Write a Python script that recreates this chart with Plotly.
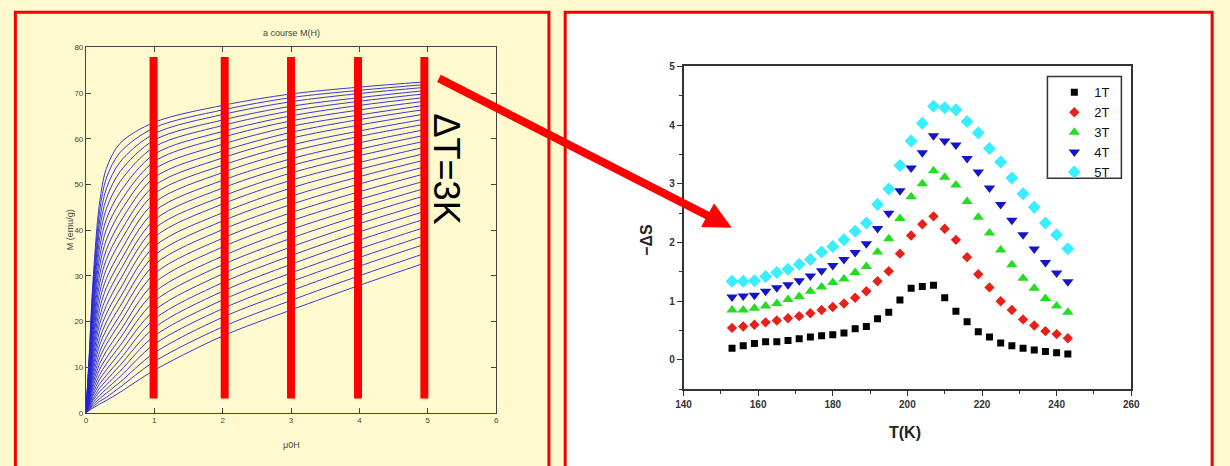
import plotly.graph_objects as go

# ---------------- data: left panel, M(H) isotherms (153 K ... 243 K, step 3 K) ----------------
H_grid = [0, 0.05, 0.1, 0.2, 0.3, 0.5, 1, 2, 3, 4, 5]
M_curves = [
    [0, 13.0, 28.0, 46.0, 53.5, 59.0, 63.6, 67.3, 69.8, 71.3, 72.5],
    [0, 12.4, 26.8, 44.1, 51.4, 57.0, 62.4, 66.3, 69.0, 70.6, 71.9],
    [0, 11.9, 25.5, 42.0, 49.1, 54.9, 61.1, 65.3, 68.1, 69.9, 71.3],
    [0, 11.3, 24.3, 40.1, 46.9, 52.8, 59.7, 64.1, 67.1, 69.0, 70.6],
    [0, 10.7, 23.0, 38.1, 44.7, 50.6, 58.2, 62.9, 66.1, 68.2, 69.9],
    [0, 10.1, 21.8, 36.1, 42.4, 48.3, 56.6, 61.6, 65.0, 67.3, 69.1],
    [0, 9.6, 20.6, 34.0, 40.2, 46.1, 55.0, 60.3, 63.9, 66.3, 68.3],
    [0, 9.0, 19.3, 32.1, 37.9, 43.9, 53.3, 58.8, 62.7, 65.2, 67.4],
    [0, 8.4, 18.1, 30.1, 35.7, 41.7, 51.5, 57.3, 61.4, 64.2, 66.5],
    [0, 7.9, 16.9, 28.2, 33.6, 39.5, 49.7, 55.8, 60.1, 63.0, 65.5],
    [0, 7.4, 15.8, 26.3, 31.5, 37.4, 47.9, 54.2, 58.6, 61.7, 64.4],
    [0, 6.9, 14.6, 24.5, 29.4, 35.2, 46.0, 52.6, 57.2, 60.5, 63.3],
    [0, 6.4, 13.5, 22.7, 27.4, 33.1, 44.1, 50.9, 55.6, 59.1, 62.1],
    [0, 5.9, 12.5, 21.0, 25.4, 31.1, 42.2, 49.2, 54.1, 57.7, 60.9],
    [0, 5.4, 11.5, 19.4, 23.5, 29.1, 40.3, 47.4, 52.5, 56.3, 59.6],
    [0, 5.0, 10.5, 17.8, 21.7, 27.1, 38.4, 45.7, 50.9, 54.8, 58.3],
    [0, 4.5, 9.6, 16.2, 19.9, 25.2, 36.4, 43.8, 49.2, 53.3, 56.9],
    [0, 4.1, 8.7, 14.8, 18.2, 23.3, 34.4, 42.0, 47.4, 51.7, 55.5],
    [0, 3.7, 7.8, 13.3, 16.5, 21.4, 32.4, 40.1, 45.6, 50.1, 54.0],
    [0, 3.3, 7.0, 12.0, 15.0, 19.7, 30.4, 38.2, 43.8, 48.4, 52.5],
    [0, 3.0, 6.2, 10.7, 13.5, 17.9, 28.4, 36.3, 42.0, 46.7, 50.9],
    [0, 2.6, 5.5, 9.5, 12.0, 16.3, 26.4, 34.3, 40.1, 44.9, 49.3],
    [0, 2.3, 4.8, 8.3, 10.7, 14.7, 24.4, 32.4, 38.2, 43.2, 47.7],
    [0, 2.0, 4.1, 7.3, 9.4, 13.2, 22.4, 30.4, 36.3, 41.4, 46.0],
    [0, 1.7, 3.6, 6.3, 8.2, 11.7, 20.5, 28.5, 34.4, 39.6, 44.3],
    [0, 1.5, 3.0, 5.4, 7.1, 10.4, 18.6, 26.6, 32.5, 37.8, 42.6],
    [0, 1.2, 2.6, 4.6, 6.1, 9.1, 16.8, 24.7, 30.6, 35.9, 40.8],
    [0, 1.0, 2.1, 3.8, 5.2, 7.9, 15.0, 22.8, 28.7, 34.0, 39.0],
    [0, 0.8, 1.7, 3.1, 4.3, 6.7, 13.1, 20.9, 26.7, 32.1, 37.1],
    [0, 0.7, 1.3, 2.5, 3.4, 5.6, 11.2, 18.8, 24.6, 30.0, 35.1],
    [0, 0.5, 1.0, 1.9, 2.7, 4.5, 9.3, 16.8, 22.5, 27.9, 33.0],
]
bar_H = [0.99, 2.03, 3.0, 3.98, 4.95]
bar_M = [3.1, 77.9]

# ---------------- data: right panel, -dS vs T ----------------
T_K = [153, 156, 159, 162, 165, 168, 171, 174, 177, 180, 183, 186, 189, 192, 195, 198,
       201, 204, 207, 210, 213, 216, 219, 222, 225, 228, 231, 234, 237, 240, 243]
S_1T = [0.20, 0.24, 0.28, 0.31, 0.31, 0.33, 0.36, 0.39, 0.41, 0.43, 0.46, 0.53, 0.57, 0.70, 0.81, 1.02,
        1.22, 1.25, 1.27, 1.06, 0.83, 0.65, 0.48, 0.39, 0.29, 0.24, 0.20, 0.17, 0.145, 0.12, 0.10]
S_2T = [0.545, 0.57, 0.60, 0.64, 0.67, 0.71, 0.745, 0.795, 0.85, 0.90, 0.96, 1.06, 1.17, 1.34, 1.51, 1.81,
        2.12, 2.31, 2.445, 2.235, 2.045, 1.75, 1.46, 1.235, 1.0, 0.85, 0.69, 0.585, 0.49, 0.44, 0.37]
S_3T = [0.85, 0.85, 0.88, 0.92, 0.96, 1.03, 1.08, 1.17, 1.24, 1.32, 1.38, 1.49, 1.59, 1.84, 2.065, 2.41,
        2.78, 3.0, 3.22, 3.11, 2.98, 2.70, 2.43, 2.16, 1.87, 1.62, 1.39, 1.22, 1.045, 0.92, 0.81]
S_4T = [1.07, 1.09, 1.10, 1.17, 1.23, 1.28, 1.35, 1.43, 1.52, 1.61, 1.71, 1.83, 1.98, 2.24, 2.5, 2.88,
        3.27, 3.53, 3.82, 3.73, 3.66, 3.43, 3.2, 2.93, 2.645, 2.38, 2.13, 1.89, 1.66, 1.48, 1.33]
S_5T = [1.34, 1.34, 1.35, 1.42, 1.49, 1.545, 1.63, 1.71, 1.84, 1.93, 2.045, 2.19, 2.33, 2.645, 2.91, 3.31,
        3.73, 4.03, 4.32, 4.295, 4.26, 4.06, 3.87, 3.6, 3.37, 3.1, 2.83, 2.6, 2.33, 2.13, 1.895]
series_names = ["1T", "2T", "3T", "4T", "5T"]

# ---------------- figure ----------------
W, HH = 1230, 466


def px(x):
    return x / W


def py(y):
    return 1 - y / HH


fig = go.Figure()

for row in M_curves:
    fig.add_trace(go.Scatter(
        x=H_grid, y=row, mode="lines", xaxis="x", yaxis="y",
        line=dict(color="rgba(35,35,215,0.9)", width=1, shape="spline", smoothing=0.9),
        showlegend=False, hoverinfo="skip"))

bx, by = [], []
for h in bar_H:
    bx += [h, h, None]
    by += [bar_M[0], bar_M[1], None]
fig.add_trace(go.Scatter(x=bx, y=by, mode="lines", xaxis="x", yaxis="y",
                         line=dict(color="#FF0000", width=8), showlegend=False, hoverinfo="skip"))

styles = [
    ("square", 7, "#000000"),
    ("diamond", 8, "#E8201A"),
    ("triangle-up", 10, "#22DD22"),
    ("triangle-down", 10, "#1414C8"),
    ("diamond", 10, "#38EEFF"),
]
for name, vals, (sym, sz, col) in zip(series_names, [S_1T, S_2T, S_3T, S_4T, S_5T], styles):
    fig.add_trace(go.Scatter(
        x=T_K, y=vals, mode="markers", name=name, xaxis="x2", yaxis="y2",
        marker=dict(symbol=sym, size=sz, color=col, line=dict(width=0))))

left_tick = dict(family="Liberation Sans, Arial", size=8, color="#444")
right_tick = dict(family="Liberation Sans, Arial", size=10, color="#333", weight="bold")

fig.update_layout(
    width=W, height=HH, autosize=False,
    margin=dict(l=0, r=0, t=0, b=0),
    paper_bgcolor="#FFFACD", plot_bgcolor="white",
    font=dict(family="Liberation Sans, Arial"),
    xaxis=dict(domain=[px(79), px(495)], range=[0, 6], dtick=1, anchor="y",
               ticks="inside", ticklen=5, tickcolor="#444", mirror="allticks",
               showline=True, linecolor="#444", linewidth=1, showgrid=False, zeroline=False,
               tickfont=left_tick),
    yaxis=dict(domain=[py(416.7), py(43.3)], range=[0, 80], dtick=10, anchor="x",
               ticks="inside", ticklen=5, tickcolor="#444", mirror="allticks",
               showline=True, linecolor="#444", linewidth=1, showgrid=False, zeroline=False,
               tickfont=left_tick),
    xaxis2=dict(domain=[px(685), px(1139)], range=[140, 260], dtick=20, anchor="y2",
                ticks="outside", ticklen=5, tickcolor="#333", tickwidth=1.2,
                minor=dict(dtick=10, ticks="outside", ticklen=3, tickcolor="#333"),
                showline=True, linecolor="#333", linewidth=1.5, mirror=True,
                showgrid=False, zeroline=False, tickfont=right_tick),
    yaxis2=dict(domain=[py(392.7), py(62.7)], range=[-0.5, 5], tickvals=[0, 1, 2, 3, 4, 5], anchor="x2",
                ticks="outside", ticklen=5, tickcolor="#333", tickwidth=1.2,
                minor=dict(tickvals=[-0.5, 0.5, 1.5, 2.5, 3.5, 4.5], ticks="outside", ticklen=3, tickcolor="#333"),
                showline=True, linecolor="#333", linewidth=1.5, mirror=True,
                showgrid=False, zeroline=False, tickfont=right_tick),
    legend=dict(x=px(1061), y=py(74), xanchor="left", yanchor="top",
                bgcolor="rgba(0,0,0,0)", borderwidth=0, itemwidth=30, tracegroupgap=0,
                font=dict(family="Liberation Sans, Arial", size=13, color="#111")),
    showlegend=True,
)

shapes = [
    # left panel
    dict(type="rect", xref="paper", yref="paper", x0=px(7.5), x1=px(548.5), y0=py(490), y1=py(7.5),
         fillcolor="#FFFACD", line=dict(color="#F00000", width=3), layer="below"),
    # right panel
    dict(type="rect", xref="paper", yref="paper", x0=px(565), x1=px(1221), y0=py(490), y1=py(7.5),
         fillcolor="white", line=dict(color="#F00000", width=3), layer="below"),
    # legend box
    dict(type="rect", xref="paper", yref="paper", x0=px(1054), x1=px(1129), y0=py(177), y1=py(73),
         fillcolor="rgba(0,0,0,0)", line=dict(color="#333", width=1.5), layer="above"),
    # arrow shaft
    dict(type="line", xref="paper", yref="paper", x0=px(437), y0=py(75), x1=px(712), y1=py(216.5),
         line=dict(color="#FF0000", width=8), layer="above"),
    # arrow head
    dict(type="path", xref="paper", yref="paper",
         path=f"M {px(733)},{py(227)} L {px(703.5)},{py(226.5)} L {px(716)},{py(203.5)} Z",
         fillcolor="#FF0000", line=dict(color="#FF0000", width=1), layer="above"),
]
fig.update_layout(shapes=shapes)

annots = [
    dict(text="a course M(H)", x=px(287), y=py(29), font=dict(size=9, color="#444")),
    dict(text="μ0H", x=px(287), y=py(450), font=dict(size=9, color="#444")),
    dict(text="M (emu/g)", x=px(63), y=py(230), textangle=-90, font=dict(size=9, color="#444")),
    dict(text="ΔT=3K", x=px(445), y=py(168), textangle=90,
         font=dict(size=36, color="black", family="Liberation Sans, Arial")),
    dict(text="T(K)", x=px(910), y=py(437), font=dict(size=16, color="#222", weight="bold")),
    dict(text="−ΔS", x=px(648), y=py(240), textangle=-90, font=dict(size=16, color="#222", weight="bold")),
]
for a in annots:
    a.update(xref="paper", yref="paper", showarrow=False, xanchor="center", yanchor="middle")
fig.update_layout(annotations=annots)

fig.write_html(
    "out.html",
    config={"displayModeBar": False},
    post_script="document.body.style.margin='0';document.body.style.overflow='hidden';",
)
